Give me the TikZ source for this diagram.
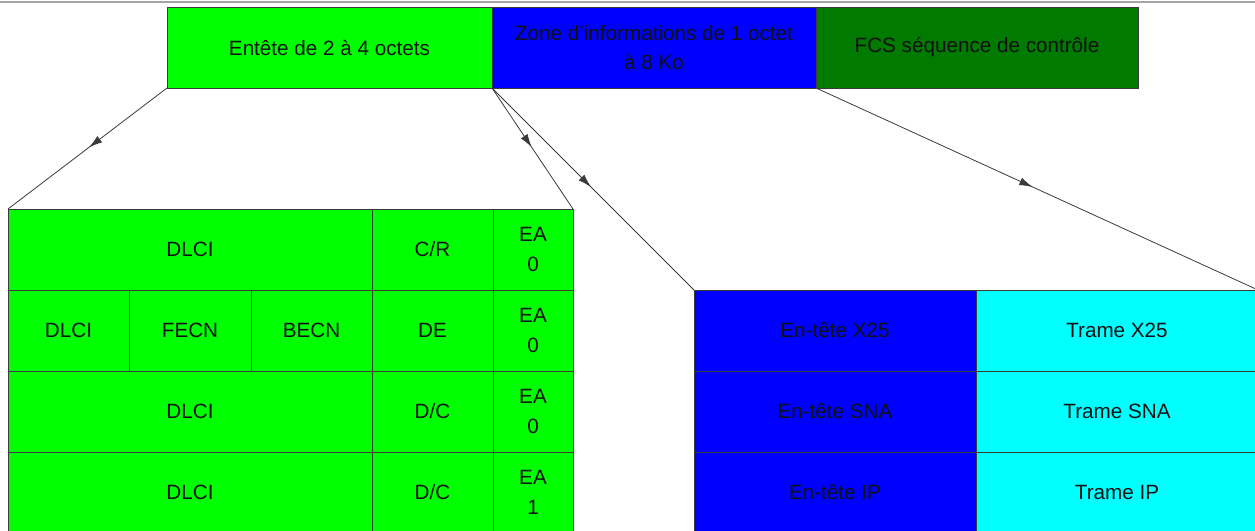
\documentclass[tikz,border=0pt]{standalone}
\usepackage{fontspec}
\setmainfont{Liberation Sans}
\usetikzlibrary{arrows.meta,decorations.markings}
\definecolor{lime}{HTML}{00FF00}
\definecolor{pblue}{HTML}{0000FF}
\definecolor{dgreen}{HTML}{007A00}
\definecolor{pcyan}{HTML}{00FFFF}
\definecolor{txt}{HTML}{111111}
\definecolor{edge}{HTML}{3A3A3A}
\newcommand{\cellbox}[7]{\node[cellst, fill=#6, minimum width={(#4-#2)*0.75pt}, minimum height={(#5-#3)*0.75pt}] (#1) at ({(#2+#4)/2},{(#3+#5)/2}) {#7};}
\tikzset{
  cellst/.style={draw=edge, line width=0.5pt, rectangle, inner sep=0pt, outer sep=0pt, align=center, text=txt, font=\fontsize{15.5}{22}\selectfont},
  conn/.style={draw=edge, line width=0.6pt, postaction={decorate}, decoration={markings, mark=at position 0.49 with {\arrow{Latex[length=10pt,width=6pt]}}}}
}
\begin{document}
\begin{tikzpicture}[x=0.75pt,y=-0.75pt]
\useasboundingbox (0,0) rectangle (1255,531);
\draw[gray!70, line width=0.9pt] (0,2) -- (1255,2);
% top frame
\cellbox{hdr}{167}{7}{492}{88}{lime}{Entête de 2 à 4 octets}
\cellbox{info}{492}{7}{816}{88}{pblue}{Zone d'informations de 1 octet\\à 8 Ko}
\cellbox{fcs}{816}{7}{1138}{88}{dgreen}{FCS séquence de contrôle}
% left table
\cellbox{aa}{8}{209}{372}{290}{lime}{DLCI}
\cellbox{ab}{372}{209}{493}{290}{lime}{C/R}
\cellbox{ac}{493}{209}{573}{290}{lime}{EA\\0}
\cellbox{ba}{8}{290}{129}{371}{lime}{DLCI}
\cellbox{bb}{129}{290}{251}{371}{lime}{FECN}
\cellbox{bc}{251}{290}{372}{371}{lime}{BECN}
\cellbox{bd}{372}{290}{493}{371}{lime}{DE}
\cellbox{be}{493}{290}{573}{371}{lime}{EA\\0}
\cellbox{ca}{8}{371}{372}{452}{lime}{DLCI}
\cellbox{cb}{372}{371}{493}{452}{lime}{D/C}
\cellbox{cc}{493}{371}{573}{452}{lime}{EA\\0}
\cellbox{da}{8}{452}{372}{533}{lime}{DLCI}
\cellbox{db}{372}{452}{493}{533}{lime}{D/C}
\cellbox{dc}{493}{452}{573}{533}{lime}{EA\\1}
% right table
\cellbox{xh}{694}{290}{976}{371}{pblue}{En-tête X25}
\cellbox{xt}{976}{290}{1258}{371}{pcyan}{Trame X25}
\cellbox{sh}{694}{371}{976}{452}{pblue}{En-tête SNA}
\cellbox{st}{976}{371}{1258}{452}{pcyan}{Trame SNA}
\cellbox{ih}{694}{452}{976}{533}{pblue}{En-tête IP}
\cellbox{it}{976}{452}{1258}{533}{pcyan}{Trame IP}
% connectors
\draw[conn] (hdr.south west) -- (aa.north west);
\draw[conn] (hdr.south east) -- (ac.north east);
\draw[conn] (info.south west) -- (xh.north west);
\draw[conn] (fcs.south west) -- (xt.north east);
\end{tikzpicture}
\end{document}
